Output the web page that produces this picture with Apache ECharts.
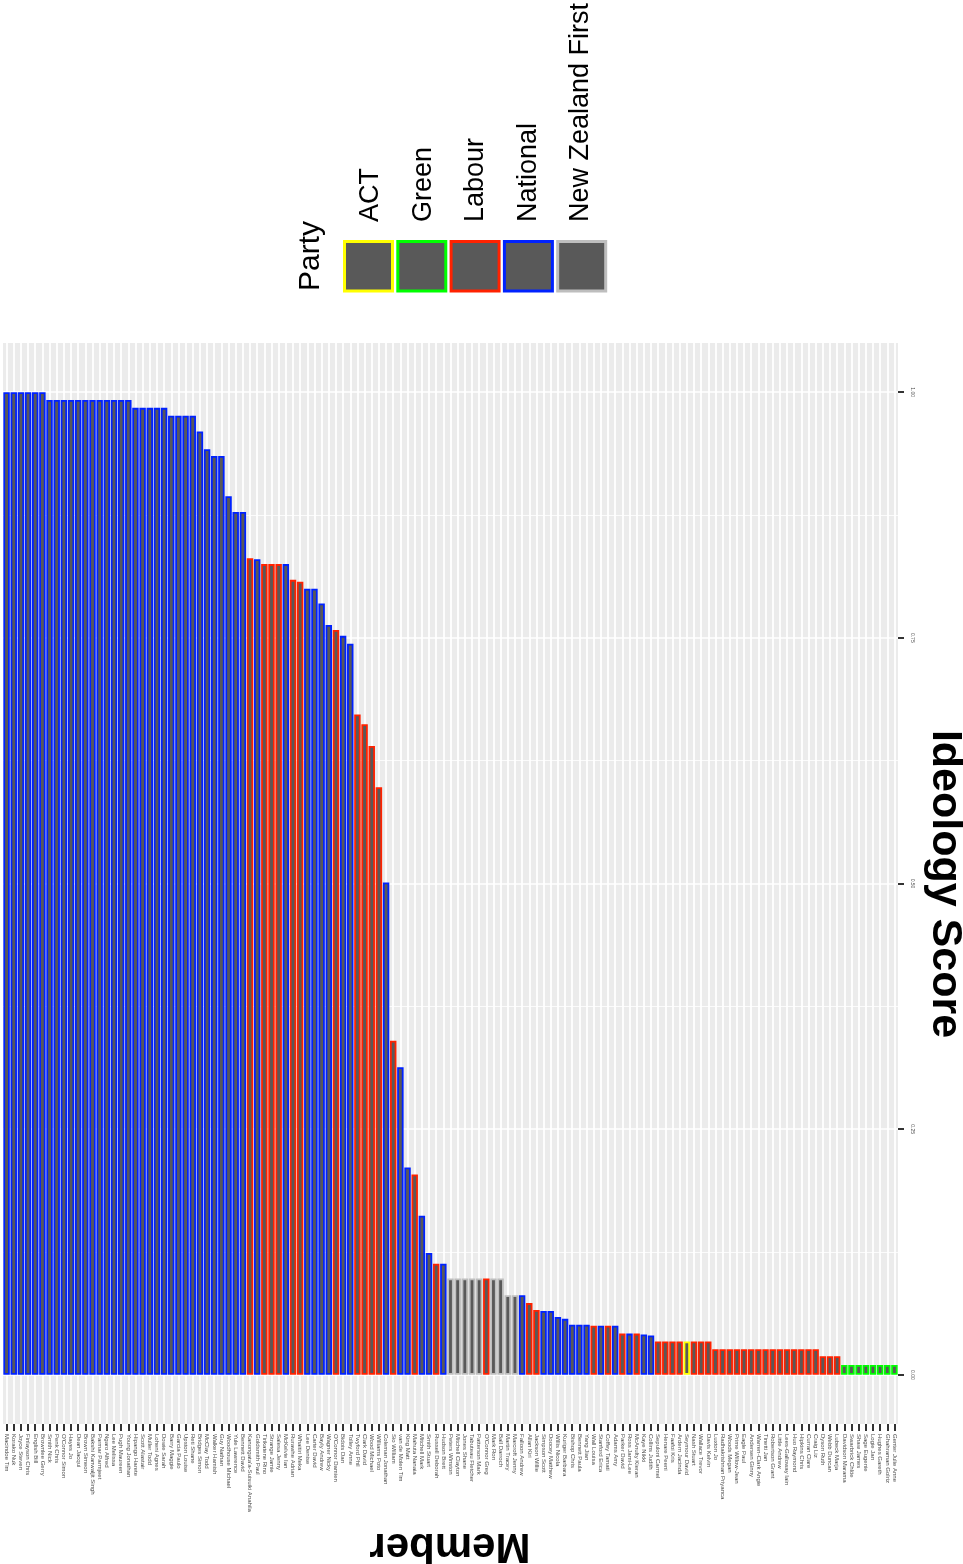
<!DOCTYPE html>
<html><head><meta charset="utf-8">
<script src="https://cdn.jsdelivr.net/npm/echarts@6/dist/echarts.min.js"></script>
<style>html,body{margin:0;padding:0;background:#fff}#c{width:963px;height:1564px}</style>
</head><body><div id="c"></div>
<script>
const members = ["Macindoe Tim","Korako Nuk","Joyce Steven","Finlayson Chris","English Bill","Brownlee Gerry","Smith Nick","Penk Chris","O'Connor Simon","Hayes Jo","Dean Jacqui","Brown Simeon","Bakshi Kanwaljit Singh","Parmar Parmjeet","Ngaro Alfred","Lee Melissa","Pugh Maureen","Young Jonathan","Hipango Harete","Scott Alastair","Muller Todd","Loheni Agnes","Dowie Sarah","Barry Maggie","Garcia Paulo","Upston Louise","Reti Shane","Bridges Simon","McClay Todd","Walker Hamish","Guy Nathan","Woodhouse Michael","Yule Lawrence","Bennett David","Kanongata'a-Suisuiki Anahila","Goldsmith Paul","Tirikatene Rino","Strange Jamie","Salesa Jenny","McKelvie Ian","Rurawhe Adrian","Whaitiri Meka","Lee Denise","Carter David","Bayly Andrew","Wagner Nicky","O'Connor Damien","Bidois Dan","Tolley Anne","Twyford Phil","Clark David","Wood Michael","Williams Poto","Coleman Jonathan","Sio William","van de Molen Tim","King Matt","Mahuta Nanaia","Mitchell Mark","Smith Stuart","Russell Deborah","Hudson Brett","Peters Winston","Mitchell Clayton","Jones Shane","Tabuteau Fletcher","Patterson Mark","O'Connor Greg","Mark Ron","Ball Darroch","Martin Tracey","Marcroft Jenny","Falloon Andrew","Allan Kiri","Jackson Willie","Simpson Scott","Doocey Matthew","Willis Nicola","Kuriger Barbara","Bishop Chris","Bennett Paula","Yang Jian","Wall Louisa","Stanford Erica","Coffey Tamati","Adams Amy","Parker David","Ross Jami-Lee","McAnulty Kieran","Kaye Nikki","Collins Judith","Sepuloni Carmel","Henare Peeni","Faafoi Kris","Ardern Jacinda","Seymour David","Nash Stuart","Wallace Trevor","Davis Kelvin","Luxton Jo","Radhakrishnan Priyanca","Woods Megan","Prime Willow-Jean","Eagle Paul","Andersen Ginny","Warren-Clark Angie","Tinetti Jan","Robertson Grant","Little Andrew","Lees-Galloway Iain","Huo Raymond","Hipkins Chris","Curran Clare","Craig Liz","Dyson Ruth","Webb Duncan","Lubeck Marja","Davidson Marama","Swarbrick Chlöe","Shaw James","Sage Eugenie","Logie Jan","Hughes Gareth","Ghahraman Golriz","Genter Julie Anne"];

const scores = [1.000,1.000,1.000,1.000,1.000,1.000,0.992,0.992,0.992,0.992,0.992,0.992,0.992,0.992,0.992,0.992,0.992,0.992,0.984,0.984,0.984,0.984,0.984,0.976,0.976,0.976,0.976,0.960,0.942,0.935,0.935,0.894,0.878,0.878,0.831,0.830,0.825,0.825,0.825,0.825,0.809,0.807,0.800,0.800,0.785,0.763,0.758,0.752,0.744,0.672,0.662,0.640,0.598,0.501,0.340,0.313,0.211,0.204,0.162,0.124,0.113,0.113,0.098,0.098,0.098,0.098,0.098,0.098,0.098,0.098,0.081,0.081,0.081,0.073,0.066,0.065,0.065,0.059,0.057,0.051,0.051,0.051,0.050,0.050,0.050,0.050,0.042,0.042,0.042,0.041,0.040,0.034,0.034,0.034,0.034,0.034,0.034,0.034,0.034,0.026,0.026,0.026,0.026,0.026,0.026,0.026,0.026,0.026,0.026,0.026,0.026,0.026,0.026,0.026,0.019,0.019,0.019,0.010,0.010,0.010,0.010,0.010,0.010,0.010,0.010];

const N = "National", L = "Labour", G = "Green", A = "ACT", F = "New Zealand First";
const parties = [
  N,N,N,N,N,N,N,N,N,N, N,N,N,N,N,N,N,N,N,N, N,N,N,N,N,N,N,N,N,N, N,N,N,N,   // 1-34
  L,N,L,L,L,N,L,L,N,N, N,N,L,N,N,L,L,L,L,N,                                 // 35-54
  L,N,N,L,N,N,L,N,F,F, F,F,F,L,F,F,F,F,N,L,                                 // 55-74
  L,N,N,N,N,N,N,N,L,N, L,N,L,N,L,N,N,L,L,L,                                 // 75-94
  L,A,L,L,L,L,L,L,L,L, L,L,L,L,L,L,L,L,L,L,                                 // 95-114
  L,L,L,G,G,G,G,G,G,G, G                                                    // 115-125
];

const partyNames = ["ACT","Green","Labour","National","New Zealand First"];
const partyColors = ["#FFFF00","#00FF00","#FF2200","#0022FF","#BEBEBE"];
const scoreTicks = [0, 0.25, 0.5, 0.75, 1];
const minorTicks = [0.125, 0.375, 0.625, 0.875];

const colorOf = p => partyColors[partyNames.indexOf(p)];
const FONT = '"Liberation Sans", Arial, sans-serif';

const chart = echarts.init(document.getElementById('c'), null, {renderer: 'canvas'});

const legendGraphics = [];
legendGraphics.push({type:'text', x:311, y:291, rotation:Math.PI/2, z:10,
  style:{text:'Party', font:'30px ' + FONT, fill:'#000', align:'left', verticalAlign:'middle'}});
partyNames.forEach((p, i) => {
  legendGraphics.push({type:'rect', z:10, shape:{x:344.5 + i*53.3, y:241.5, width:48, height:49.5},
    style:{fill:'#595959', stroke:partyColors[i], lineWidth:3}});
  legendGraphics.push({type:'text', x:371 + i*52.5, y:222, rotation:Math.PI/2, z:10,
    style:{text:p, font:'27px ' + FONT, fill:'#000', align:'left', verticalAlign:'middle'}});
});
legendGraphics.push({type:'text', x:945, y:884, rotation:-Math.PI/2, z:10,
  style:{text:'Ideology Score', font:'bold 43px ' + FONT, fill:'#000', align:'center', verticalAlign:'middle'}});
legendGraphics.push({type:'text', x:450, y:1546, rotation:Math.PI, z:10,
  style:{text:'Member', font:'bold 42px ' + FONT, fill:'#000', align:'center', verticalAlign:'middle'}});

const option = {
  animation: false,
  backgroundColor: '#ffffff',
  grid: {left:3, right:65, top:343, bottom:140, show:true, backgroundColor:'#EBEBEB', borderWidth:0},
  xAxis: {
    type:'category', data: members,
    axisLine:{show:false, onZero:false},
    axisTick:{show:true, interval:0, alignWithLabel:true, length:7, lineStyle:{color:'#333333', width:2}},
    axisLabel:{interval:0, rotate:-90, fontSize:6, color:'#4D4D4D', margin:10, fontFamily:FONT},
    splitLine:{show:true, interval:0, alignWithLabel:true, lineStyle:{color:'#ffffff', width:1.8}}
  },
  yAxis: [{
    type:'value', position:'right', min:-0.05, max:1.05,
    axisLine:{show:false},
    axisTick:{show:true, customValues:scoreTicks, length:6, lineStyle:{color:'#333333', width:2}},
    axisLabel:{customValues:scoreTicks, formatter:v => Number(v).toFixed(2), rotate:-90, fontSize:5, color:'#4D4D4D', margin:12, fontFamily:FONT},
    splitLine:{show:true, customValues:scoreTicks, lineStyle:{color:'#ffffff', width:1.6}}
  }, {
    type:'value', position:'right', min:-0.05, max:1.05,
    axisLine:{show:false},
    axisTick:{show:false, customValues:minorTicks},
    axisLabel:{show:false},
    splitLine:{show:true, customValues:minorTicks, lineStyle:{color:'#ffffff', width:0.8}}
  }],
  series: [{
    type:'bar', yAxisIndex:0, barWidth:'90%',
    data: members.map((m, i) => ({
      value: scores[i],
      itemStyle: {color:'#595959', borderColor: colorOf(parties[i]), borderWidth:1.8}
    }))
  }],
  graphic: legendGraphics
};
chart.setOption(option);
</script>
</body></html>
